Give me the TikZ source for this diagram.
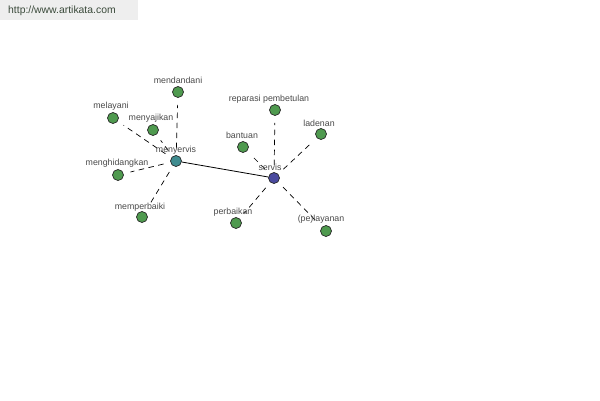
\documentclass[tikz,border=0pt]{standalone}
\usepackage{fontspec}
\setmainfont{Liberation Sans}
\definecolor{leafgreen}{HTML}{4F9A4F}
\definecolor{hubteal}{HTML}{3F8C8F}
\definecolor{hubblue}{HTML}{4A4A9E}
\definecolor{lbl}{HTML}{4A4A4A}
\definecolor{hdrbg}{HTML}{EEEEEE}
\definecolor{hdrtxt}{HTML}{3A4A3A}
\begin{document}
\begin{tikzpicture}[x=1pt,y=-1pt,
  leaf/.style={circle,draw=black!85,line width=0.7pt,fill=leafgreen,minimum size=11pt,inner sep=0pt},
  hubA/.style={leaf,fill=hubteal},
  hubB/.style={leaf,fill=hubblue},
  lab/.style={font=\fontsize{8.8}{9}\selectfont,text=lbl,inner sep=0pt},
  link/.style={dashed,dash pattern=on 5.5pt off 4.5pt,line width=0.7pt,shorten >=7pt,shorten <=7pt},
  main/.style={line width=0.8pt}]
\useasboundingbox (0,0) rectangle (600,400);
\fill[white] (0,0) rectangle (600,400);
\node[fill=hdrbg,minimum width=138pt,minimum height=20pt,anchor=north west,inner sep=0pt] (hdr) at (0,0) {};
\node[anchor=west,inner sep=0pt,text=hdrtxt,font=\fontsize{10.4}{11}\selectfont] (url) at (8,11) {http://www.artikata.com};
% hubs
\node[hubA] (menyervis) at (176,161) {};
\node[hubB] (servis) at (274,178) {};
% leaves
\node[leaf] (mendandani) at (178,92) {};
\node[leaf] (melayani) at (113,118) {};
\node[leaf] (menyajikan) at (153,130) {};
\node[leaf] (menghidangkan) at (118,175) {};
\node[leaf] (memperbaiki) at (142,217) {};
\node[leaf] (reparasi) at (275,110) {};
\node[leaf] (bantuan) at (243,147) {};
\node[leaf] (ladenan) at (321,134) {};
\node[leaf] (perbaikan) at (236,223) {};
\node[leaf] (pelayanan) at (326,231) {};
% edges
\draw[main] (menyervis) -- (servis);
\foreach \n in {mendandani,melayani,menyajikan,menghidangkan,memperbaiki}
  \draw[link] (menyervis) -- (\n);
\foreach \n in {reparasi,bantuan,ladenan,perbaikan,pelayanan}
  \draw[link] (servis) -- (\n);
% labels
\node[lab] (l1) at (176,150) {menyervis};
\node[lab] (l2) at (270,167) {servis};
\node[lab] (l3) at (178,80) {mendandani};
\node[lab] (l4) at (111,106) {melayani};
\node[lab] (l5) at (151,118) {menyajikan};
\node[lab] (l6) at (117,163) {menghidangkan};
\node[lab] (l7) at (140,207) {memperbaiki};
\node[lab] (l8) at (269,99) {reparasi pembetulan};
\node[lab] (l9) at (242,135) {bantuan};
\node[lab] (l10) at (319,123) {ladenan};
\node[lab] (l11) at (233,212) {perbaikan};
\node[lab] (l12) at (321,219) {(pe)layanan};
\end{tikzpicture}
\end{document}
